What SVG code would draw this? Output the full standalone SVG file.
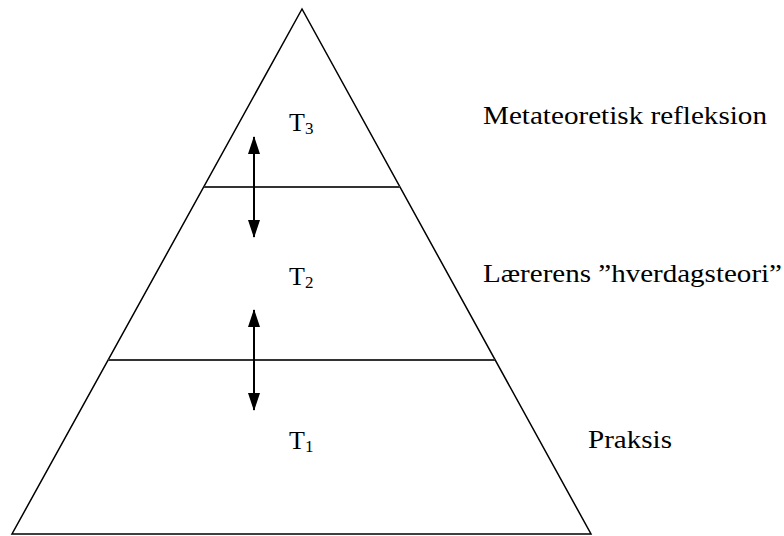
<svg xmlns="http://www.w3.org/2000/svg" width="784" height="536" viewBox="0 0 784 536">
<style>
.lbl{font-family:"Liberation Serif","Times New Roman",serif;font-size:26px;fill:#000}
.sub{font-size:17px}
.edge{fill:none;stroke:#000;stroke-width:1.5}
.div{stroke:#333;stroke-width:2}
.arr{stroke:#000;stroke-width:2;marker-start:url(#ah);marker-end:url(#ah)}
</style>
<defs>
<marker id="ah" viewBox="0 0 18 12" refX="17" refY="6" markerWidth="18" markerHeight="12" markerUnits="userSpaceOnUse" orient="auto-start-reverse">
<path d="M0,0 L18,6 L0,12 Z" fill="#000"/>
</marker>
</defs>
<rect width="784" height="536" fill="#fff"/>
<g id="pyramid">
<polygon class="edge" points="302,9 12,534 591,534"/>
<line class="div" x1="204" y1="187" x2="400" y2="187"/>
<line class="div" x1="108" y1="360" x2="495" y2="360"/>
</g>
<g id="connectors">
<line class="arr" x1="254" y1="137" x2="254" y2="237"/>
<line class="arr" x1="254" y1="310" x2="254" y2="410"/>
</g>
<g id="t3"><text class="lbl" x="289" y="131">T<tspan class="sub" dy="3">3</tspan></text></g>
<g id="t2"><text class="lbl" x="289" y="285">T<tspan class="sub" dy="3">2</tspan></text></g>
<g id="t1"><text class="lbl" x="289" y="449">T<tspan class="sub" dy="3">1</tspan></text></g>
<g id="label3"><text class="lbl" x="483" y="124" textLength="284" lengthAdjust="spacingAndGlyphs">Metateoretisk refleksion</text></g>
<g id="label2"><text class="lbl" x="483" y="282" textLength="299" lengthAdjust="spacingAndGlyphs">Lærerens ”hverdagsteori”</text></g>
<g id="label1"><text class="lbl" x="588" y="448" textLength="84" lengthAdjust="spacingAndGlyphs">Praksis</text></g>
</svg>
